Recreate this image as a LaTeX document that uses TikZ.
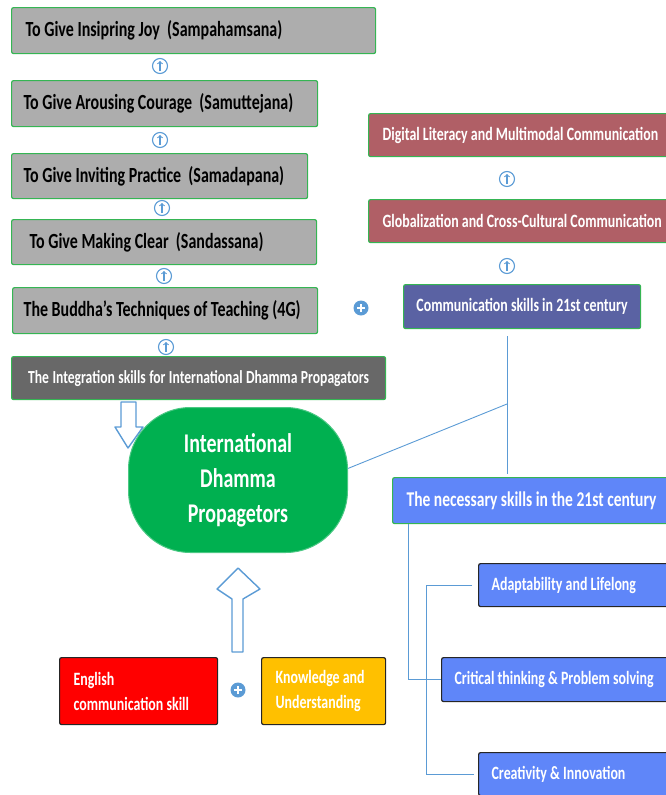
\documentclass[tikz,border=0pt]{standalone}
\usepackage{fontspec}
\setmainfont{Carlito}[FakeStretch=0.74]
\definecolor{edgegreen}{HTML}{35B553}
\definecolor{boxgray}{HTML}{ADADAD}
\definecolor{integgray}{HTML}{686868}
\definecolor{rose}{HTML}{B05F66}
\definecolor{commpurple}{HTML}{5A62A3}
\definecolor{skillblue}{HTML}{5F86F9}
\definecolor{iconblue}{HTML}{5B9BD5}
\definecolor{idpgreen}{HTML}{00B050}
\definecolor{boxyellow}{HTML}{FFC000}
\begin{document}
\begin{tikzpicture}[x=1pt, y=-1pt,
  gray node/.style={draw=edgegreen, line width=1.2pt, rounded corners=2pt, fill=boxgray, anchor=north west, inner xsep=14pt, align=left, font=\bfseries\fontsize{21.6}{23}\selectfont},
  dark node/.style={gray node, fill=integgray, text=white, font=\bfseries\fontsize{18.8}{20}\selectfont},
  rose node/.style={dark node, fill=rose},
  blue node/.style={draw=black!85, line width=1.2pt, rounded corners=2pt, fill=skillblue, text=white, anchor=north west, inner xsep=13pt, align=left, font=\bfseries\fontsize{18.8}{20}\selectfont},
  up node/.style={circle, draw=iconblue, line width=1.1pt, minimum size=15pt, inner sep=0pt, path picture={\draw[iconblue, line width=1.1pt, ->] ([yshift=-5pt]path picture bounding box.center) -- ([yshift=5pt]path picture bounding box.center);}},
  plus node/.style={circle, fill=iconblue, minimum size=15pt, inner sep=0pt, path picture={\draw[white, line width=2.2pt] ([xshift=-4pt]path picture bounding box.center) -- ([xshift=4pt]path picture bounding box.center) ([yshift=-4pt]path picture bounding box.center) -- ([yshift=4pt]path picture bounding box.center);}},
  link/.style={draw=iconblue, line width=0.9pt},
  block/.style={draw=iconblue, line width=1.4pt, fill=white, line join=round}]
        \tikzstyle{every node}=[font=\bfseries, execute at begin node={\spaceskip=0pt\xspaceskip=0pt}]
        \useasboundingbox (0,0) rectangle (666,795);
        \clip (0,0) rectangle (666,795);

          \node[gray node, text width=336pt, minimum height=46pt] (1) at (11,7) {To Give Insipring Joy~ (Sampahamsana)};
          \node[gray node, text width=282pt, inner xsep=12pt, minimum height=46pt] (2) at (11,80) {To Give Arousing Courage~ (Samuttejana)};
          \node[gray node, text width=272pt, inner xsep=12pt, minimum height=45pt] (3) at (11,153) {To Give Inviting Practice~ (Samadapana)};
          \node[gray node, text width=269pt, inner xsep=18pt, minimum height=45pt] (4) at (11,219) {To Give Making Clear~ (Sandassana)};
          \node[gray node, text width=283pt, inner xsep=11pt, minimum height=46pt] (5) at (12,287) {The Buddha's Techniques of Teaching (4G)};
          \node[dark node, text width=358pt, inner xsep=8pt, minimum height=43pt, align=center, font=\bfseries\fontsize{18.4}{20}\selectfont] (6) at (11,356) {The Integration skills for International Dhamma Propagators};

          \node[rose node, text width=284pt, minimum height=43pt] (7) at (368,113) {Digital Literacy and Multimodal Communication};
          \node[rose node, text width=284pt, minimum height=43pt] (8) at (368,199) {Globalization and Cross-Cultural Communication};
          \node[dark node, fill=commpurple, minimum width=237pt, minimum height=44pt, align=center, inner xsep=8pt] (9) at (403,284) {Communication skills in 21st century};
          \node[gray node, fill=skillblue, text=white, text width=282pt, minimum height=46pt, font=\bfseries\fontsize{21}{23}\selectfont] (10) at (392,477) {The necessary skills in the 21st century};
          \node[blue node, text width=200pt, minimum height=43pt] (11) at (478,563) {Adaptability and Lifelong};
          \node[blue node, text width=230pt, minimum height=44pt] (12) at (441,657) {Critical thinking \& Problem solving};
          \node[blue node, text width=200pt, minimum height=43pt] (13) at (478,752) {Creativity \& Innovation};

          \node[blue node, fill=red, text width=130pt, inner xsep=14pt, minimum height=67pt, font=\bfseries\fontsize{18.8}{25}\selectfont] (14) at (59,657) {English\\communication skill};
          \node[blue node, fill=boxyellow, text width=96pt, inner xsep=14pt, minimum height=67pt, font=\bfseries\fontsize{18.8}{25}\selectfont] (15) at (261,657) {Knowledge and\\Understanding};

          \draw[block] (121,402) -- (136,402) -- (136,427) -- (143,427) -- (128,448) -- (115,427) -- (121,427) -- cycle;
          \node[draw=idpgreen!70!white, line width=1pt, fill=idpgreen, rounded corners=62pt, minimum width=219pt, minimum height=145pt, anchor=north west, text=white, align=center, font=\bfseries\fontsize{27}{35}\selectfont] (16) at (128,407) {International\\Dhamma\\Propagetors};
          \draw[block] (232,652) -- (232,599) -- (217,589) -- (238,568) -- (260,589) -- (243,599) -- (243,652) -- cycle;

          \node[up node] (a1) at (160,66) {};
          \node[up node] (a2) at (160,140) {};
          \node[up node] (a3) at (162,208) {};
          \node[up node] (a4) at (164,276) {};
          \node[up node] (a5) at (166,347) {};
          \node[up node] (a6) at (507,179) {};
          \node[up node] (a7) at (507,266) {};
          \node[plus node] (p1) at (361,308) {};
          \node[plus node] (p2) at (238,690) {};

          \coordinate (j) at (507,404);
          \path[link] (16.6) edge (j)
            ([yshift=-7pt]9.south -| j) edge ([yshift=3pt]10.north -| j);
          \draw[link] ([xshift=16pt]10.south west) |- (12.west);
          \draw[link] ([xshift=-6pt]11.west) -- ++(-46,0) |- ([xshift=-4pt]13.west);

        \end{tikzpicture}
\end{document}
